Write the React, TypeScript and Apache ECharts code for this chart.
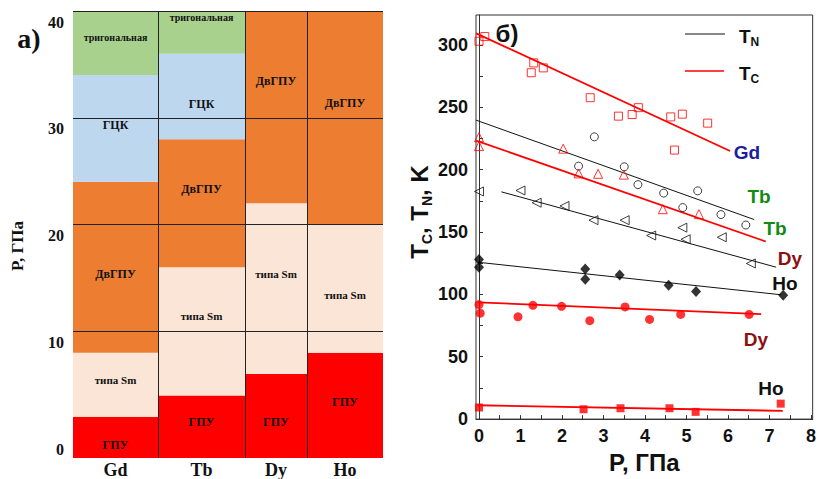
import React, { useEffect, useRef } from "react";
import * as echarts from "echarts";

// ================= Panel (а): phase sequences vs pressure =================
const ELEMENTS = ["Gd", "Tb", "Dy", "Ho"];
const PHASES = ["ГПУ", "типа Sm", "ДвГПУ", "ГЦК", "тригональная"];
const P_TICKS_A = [0, 10, 20, 30, 40];
// [phase index, from P (GPa), to P (GPa)]
const GD_PHASES = [[0, 0, 2], [1, 2, 8], [2, 8, 24], [3, 24, 34], [4, 34, 40]];
const TB_PHASES = [[0, 0, 4], [1, 4, 16], [2, 16, 28], [3, 28, 36], [4, 36, 40]];
const DY_PHASES = [[0, 0, 6], [1, 6, 22], [2, 22, 40]];
const HO_PHASES = [[0, 0, 8], [1, 8, 20], [2, 20, 40]];
const ALL_PHASES = [GD_PHASES, TB_PHASES, DY_PHASES, HO_PHASES];

// ================= Panel (б): T_C, T_N vs pressure =================
const P_TICKS_B = [0, 1, 2, 3, 4, 5, 6, 7, 8];
const P_MINOR_B = [0, 0.5, 1, 1.5, 2, 2.5, 3, 3.5, 4, 4.5, 5, 5.5, 6, 6.5, 7, 7.5, 8];
const T_TICKS = [0, 50, 100, 150, 200, 250, 300];
const T_MINOR = [0, 25, 50, 75, 100, 125, 150, 175, 200, 225, 250, 275, 300];

const GD_TC = [[0, 303], [0.14, 306.7], [1.26, 277.7], [1.32, 285.6], [1.55, 281.6], [2.68, 257.7], [3.36, 242.9], [3.69, 244.2], [3.84, 249.7], [4.62, 242.3], [4.71, 215.7], [4.9, 244.5], [5.51, 237.3]];
const TB_TN = [[2.4, 202.8], [2.78, 226.3], [3.5, 202.3], [3.83, 188], [4.45, 181.2], [4.91, 169.6], [5.27, 183], [5.83, 164], [6.43, 155.6]];
const TB_TC = [[0, 226], [0, 218.9], [2.03, 216.8], [2.4, 197], [2.87, 196.7], [3.49, 196], [4.43, 168.3], [5.3, 164.3]];
const DY_TN = [[0, 182.5], [1.0, 183.3], [1.39, 173.5], [2.06, 170.9], [2.76, 159.5], [3.51, 159.5], [4.15, 147.2], [4.9, 153.5], [4.98, 144.2], [5.85, 145.8], [6.55, 124.8]];
const DY_TC = [[0, 91.8], [0.03, 84.9], [0.94, 82], [1.3, 91.2], [1.99, 90.4], [2.67, 78.9], [3.52, 89.9], [4.11, 79.9], [4.86, 83.9], [6.51, 83.9]];
const HO_TN = [[0, 127.9], [0, 121.8], [2.56, 120.3], [2.56, 112.1], [3.39, 115.5], [4.57, 107.4], [5.23, 102.3], [7.33, 99.4]];
const HO_TC = [[0, 9.3], [2.52, 7.9], [3.41, 8.7], [4.59, 8.7], [5.22, 5.8], [7.27, 12.4]];

const GD_TC_FIT = [[-0.07, 309.3], [6.05, 215]];
const TB_TN_FIT = [[-0.07, 239.7], [6.63, 160]];
const TB_TC_FIT = [[-0.07, 223.3], [6.91, 142.4]];
const DY_TN_FIT = [[0.54, 182.2], [7.16, 121.8]];
const DY_TC_FIT = [[-0.03, 93.6], [6.8, 84.1]];
const HO_TN_FIT = [[-0.04, 125.8], [7.28, 99.7]];
const HO_TC_FIT = [[-0.04, 11.1], [7.32, 6.6]];

// ================= layout / style =================
const COL_WIDTHS = [85, 87, 62, 76];
const EDGES = COL_WIDTHS.reduce((a: number[], w) => [...a, a[a.length - 1] + w], [0]);
const CENTERS = COL_WIDTHS.map((w, i) => EDGES[i] + w / 2);
const A_MIN = -1.86;
// label pressure position inside each region (layout)
const LABEL_P = [
  [-0.6, 5.4, 15.4, 29.3, 37.5],
  [1.5, 11.4, 23.3, 31.3, 39.4],
  [1.5, 15.4, 33.4],
  [3.4, 13.4, 31.4],
];
const PHASE_COLORS = ["#FF0000", "#FBE5D6", "#ED7D31", "#BDD7EE", "#A9D18E"];
const PHASE_FONT = [12, 11, 12, 12, 10];
const SERIF = "'Liberation Serif', 'Times New Roman', serif";
const SANS = "'Liberation Sans', Arial, sans-serif";

const regionData: number[][] = [];
ALL_PHASES.forEach((list, col) =>
  list.forEach((r, k) => regionData.push([col, r[1], r[2], r[0], LABEL_P[col][k]]))
);

export default function App() {
  const ref = useRef<HTMLDivElement>(null);
  useEffect(() => {
    if (!ref.current) return;
    const chart = echarts.init(ref.current, null, { renderer: "svg" });

    const scatter = (data: number[][], symbol: string, size: any, color: string, filled: boolean, rotate = 0) => ({
      type: "scatter",
      xAxisIndex: 1,
      yAxisIndex: 1,
      data,
      symbol,
      symbolSize: size,
      symbolRotate: rotate,
      z: 5,
      itemStyle: filled
        ? { color, borderWidth: 0 }
        : { color: "rgba(0,0,0,0)", borderColor: color, borderWidth: 1 },
    });
    const fit = (data: number[][], color: string, width: number) => ({
      type: "line",
      xAxisIndex: 1,
      yAxisIndex: 1,
      data,
      symbol: "none",
      z: 3,
      lineStyle: { color, width },
    });

    const bold = (size: number, family: string) => ({ fontSize: size, fontWeight: "bold", fontFamily: family, color: "#111" });

    const option: any = {
      animation: false,
      backgroundColor: "#fff",
      grid: [
        { left: 73, top: 11, width: 310, height: 450, containLabel: false },
        { left: 476, top: 15, width: 339, height: 410, show: true, borderColor: "#333", borderWidth: 1, containLabel: false },
      ],
      xAxis: [
        {
          gridIndex: 0, type: "value", min: 0, max: EDGES[EDGES.length - 1],
          axisLine: { show: false }, axisTick: { show: false }, splitLine: { show: false },
          axisLabel: {
            customValues: CENTERS,
            margin: 3,
            ...bold(18, SERIF),
            formatter: (v: number) => {
              const i = CENTERS.findIndex((c) => Math.abs(c - v) < 0.5);
              return i >= 0 ? ELEMENTS[i] : "";
            },
          },
        },
        {
          gridIndex: 1, type: "value", min: -0.072, max: 8.04,
          axisLine: { show: true, lineStyle: { color: "#333", width: 1 } },
          axisTick: { show: true, inside: true, length: 4, customValues: P_MINOR_B, lineStyle: { color: "#333" } },
          axisLabel: { customValues: P_TICKS_B, margin: 8, ...bold(18, SANS) },
          splitLine: { show: false },
          name: "P, ГПа", nameLocation: "middle", nameGap: 30,
          nameTextStyle: bold(24, SANS),
        },
      ],
      yAxis: [
        {
          gridIndex: 0, type: "value", min: A_MIN, max: 40,
          axisLine: { show: false }, axisTick: { show: false }, splitLine: { show: false },
          axisLabel: { customValues: P_TICKS_A, margin: 9, verticalAlign: "top", lineHeight: 22, ...bold(16, SERIF) },
        },
        {
          gridIndex: 1, type: "value", min: 0, max: 324,
          axisLine: { show: true, lineStyle: { color: "#333", width: 1 } },
          axisTick: { show: true, inside: true, length: 4, customValues: T_MINOR, lineStyle: { color: "#333" } },
          axisLabel: { customValues: T_TICKS, margin: 8, ...bold(18, SANS) },
          splitLine: { show: false },
        },
      ],
      series: [
        {
          type: "custom",
          xAxisIndex: 0,
          yAxisIndex: 0,
          data: regionData,
          encode: { x: 0, y: [1, 2] },
          renderItem: (params: any, api: any) => {
            const col = api.value(0);
            const from = api.value(1);
            const to = api.value(2);
            const ph = api.value(3);
            const lp = api.value(4);
            const x0 = api.coord([EDGES[col], 0])[0];
            const x1 = api.coord([EDGES[col + 1], 0])[0];
            const yTop = api.coord([0, to])[1];
            const yBot = api.coord([0, from === 0 ? A_MIN : from])[1];
            const yl = api.coord([0, lp])[1];
            return {
              type: "group",
              children: [
                { type: "rect", shape: { x: x0, y: yTop, width: x1 - x0, height: yBot - yTop }, style: { fill: PHASE_COLORS[ph] } },
                {
                  type: "text", x: (x0 + x1) / 2, y: yl, z2: 10,
                  style: {
                    text: PHASES[ph], fill: "#111", align: "center", verticalAlign: "middle",
                    font: `bold ${PHASE_FONT[ph]}px ${SERIF}`,
                  },
                },
              ],
            };
          },
          markLine: {
            silent: true,
            symbol: ["none", "none"],
            label: { show: false },
            lineStyle: { color: "#222", width: 1, type: "solid" },
            data: [
              ...P_TICKS_A.filter((p) => p > 0).map((p) => ({ yAxis: p })),
              ...EDGES.slice(1, -1).map((e) => ({ xAxis: e })),
            ],
          },
        },
        fit(GD_TC_FIT, "#FF0000", 1.8),
        fit(TB_TN_FIT, "#111", 1),
        fit(TB_TC_FIT, "#FF0000", 1.8),
        fit(DY_TN_FIT, "#111", 1),
        fit(DY_TC_FIT, "#FF0000", 1.8),
        fit(HO_TN_FIT, "#111", 1),
        fit(HO_TC_FIT, "#FF0000", 1.8),
        scatter(GD_TC, "rect", 8, "#FF0000", false),
        scatter(TB_TN, "circle", 8, "#111", false),
        scatter(TB_TC, "triangle", 9, "#FF0000", false),
        scatter(DY_TN, "triangle", 9, "#111", false, 90),
        scatter(DY_TC, "circle", 9, "#FF0000", true),
        scatter(HO_TN, "diamond", [10, 11], "#000", true),
        scatter(HO_TC, "rect", 8, "#FF0000", true),
      ],
      graphic: [
        { type: "text", x: 29, y: 38, style: { text: "а)", font: `bold 28px ${SERIF}`, fill: "#111", align: "center", verticalAlign: "middle" } },
        { type: "text", x: 17, y: 246, rotation: Math.PI / 2, style: { text: "P, ГПа", font: `bold 17px ${SERIF}`, fill: "#111", align: "center", verticalAlign: "middle" } },
        { type: "text", x: 507, y: 33, style: { text: "б)", font: `bold 24px ${SANS}`, fill: "#111", align: "center", verticalAlign: "middle" } },
        {
          type: "text", x: 419, y: 212, rotation: Math.PI / 2,
          style: {
            text: "{t|T}{s|C}{t|, T}{s|N}{t|, K}", align: "center", verticalAlign: "middle",
            rich: {
              t: { fontSize: 24, fontWeight: "bold", fontFamily: SANS, fill: "#111", lineHeight: 30 },
              s: { fontSize: 14, fontWeight: "bold", fontFamily: SANS, fill: "#111", lineHeight: 14, verticalAlign: "bottom" },
            },
          },
        },
        { type: "line", shape: { x1: 685, y1: 34, x2: 725, y2: 34 }, style: { stroke: "#111", lineWidth: 1 } },
        { type: "line", shape: { x1: 685, y1: 71, x2: 724, y2: 71 }, style: { stroke: "#FF0000", lineWidth: 1.5 } },
        {
          type: "text", x: 739, y: 36,
          style: {
            text: "{t|T}{s|N}", align: "left", verticalAlign: "middle",
            rich: {
              t: { fontSize: 19, fontWeight: "bold", fontFamily: SANS, fill: "#111", lineHeight: 24 },
              s: { fontSize: 12, fontWeight: "bold", fontFamily: SANS, fill: "#111", lineHeight: 12, verticalAlign: "bottom" },
            },
          },
        },
        {
          type: "text", x: 739, y: 73,
          style: {
            text: "{t|T}{s|C}", align: "left", verticalAlign: "middle",
            rich: {
              t: { fontSize: 19, fontWeight: "bold", fontFamily: SANS, fill: "#111", lineHeight: 24 },
              s: { fontSize: 12, fontWeight: "bold", fontFamily: SANS, fill: "#111", lineHeight: 12, verticalAlign: "bottom" },
            },
          },
        },
        ...[
          ["Gd", 747, 152, "#1C1C9E"],
          ["Tb", 759, 196, "#148A14"],
          ["Tb", 775, 228, "#148A14"],
          ["Dy", 790, 258, "#8B1010"],
          ["Ho", 785, 283, "#111"],
          ["Dy", 756, 339, "#8B1010"],
          ["Ho", 771, 388, "#111"],
        ].map(([t, x, y, c]) => ({
          type: "text", x, y, z: 10,
          style: { text: t, font: `bold 19px ${SANS}`, fill: c, align: "center", verticalAlign: "middle" },
        })),
      ],
    };
    chart.setOption(option);
    return () => chart.dispose();
  }, []);
  return <div ref={ref} style={{ width: 819, height: 479, position: "absolute", left: 0, top: 0 }} />;
}
